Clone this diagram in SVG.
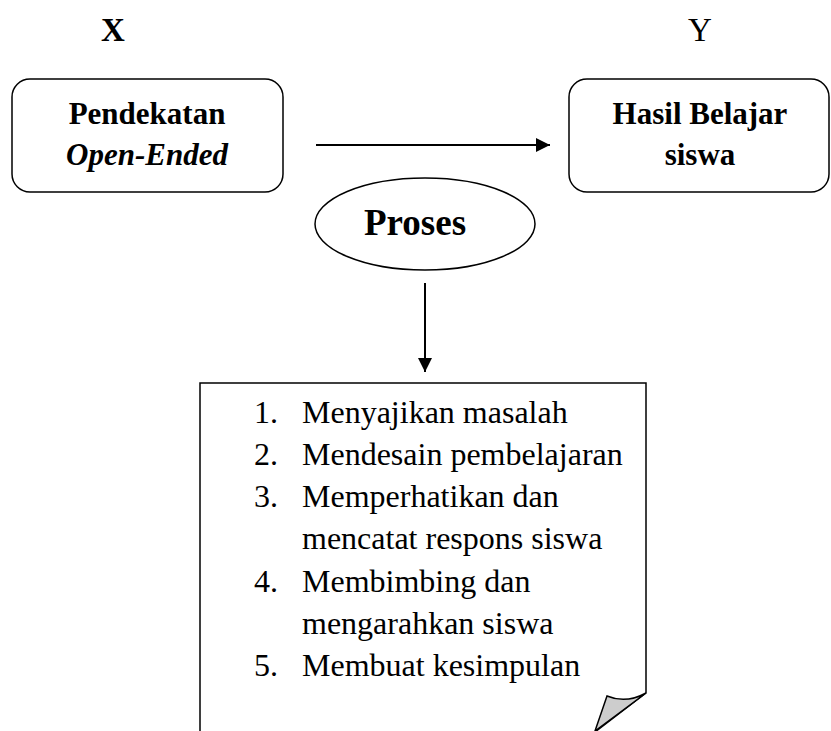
<svg xmlns="http://www.w3.org/2000/svg" width="831" height="731" viewBox="0 0 831 731">
<defs>
<style>
.t{font-family:"Liberation Serif","Times New Roman",serif;fill:#000}
.b{font-weight:bold}
.box{fill:#fff;stroke:#000;stroke-width:1.5}
.ln{stroke:#000;stroke-width:2;fill:none}
.li{font-size:32px}
</style>
<marker id="ah" viewBox="0 0 10 10" refX="10" refY="5" markerWidth="7" markerHeight="7" markerUnits="strokeWidth" orient="auto">
<path d="M0,0 L10,5 L0,10 Z" fill="#000"/>
</marker>
</defs>
<rect width="831" height="731" fill="#fff"/>
<text class="t b" x="113" y="41" font-size="33" text-anchor="middle">X</text>
<text class="t" x="700" y="41" font-size="33" text-anchor="middle">Y</text>
<g id="node-x">
<rect class="box" x="12" y="79" width="271" height="113" rx="18"/>
<text class="t b" x="147" y="124" font-size="31" text-anchor="middle">Pendekatan</text>
<text class="t b" x="147" y="165" font-size="31" text-anchor="middle" font-style="italic">Open-Ended</text>
</g>
<g id="node-y">
<rect class="box" x="569" y="79" width="260" height="113" rx="18"/>
<text class="t b" x="700" y="124" font-size="31" text-anchor="middle">Hasil Belajar</text>
<text class="t b" x="700" y="165" font-size="31" text-anchor="middle">siswa</text>
</g>
<g id="node-proses">
<ellipse class="box" cx="425" cy="224" rx="110" ry="46"/>
<text class="t b" x="415" y="235" font-size="37" text-anchor="middle">Proses</text>
</g>
<g id="node-steps">
<path class="box" d="M200,732 L200,383 L646,383 L646,693 L595,732"/>
<path d="M607,696 Q626,704 646,693 L595,731 Z" fill="#cdcdcd" stroke="#000" stroke-width="1.5"/>
<g class="t li">
<text x="254" y="423">1.</text><text x="302" y="423">Menyajikan masalah</text>
<text x="254" y="465">2.</text><text x="302" y="465">Mendesain pembelajaran</text>
<text x="254" y="507">3.</text><text x="302" y="507">Memperhatikan dan</text>
<text x="302" y="549">mencatat respons siswa</text>
<text x="254" y="592">4.</text><text x="302" y="592">Membimbing dan</text>
<text x="302" y="634">mengarahkan siswa</text>
<text x="254" y="676">5.</text><text x="302" y="676">Membuat kesimpulan</text>
</g>
</g>
<g id="connectors">
<line class="ln" x1="316" y1="145" x2="550" y2="145" marker-end="url(#ah)"/>
<line class="ln" x1="425" y1="283" x2="425" y2="372" marker-end="url(#ah)"/>
</g>
</svg>
